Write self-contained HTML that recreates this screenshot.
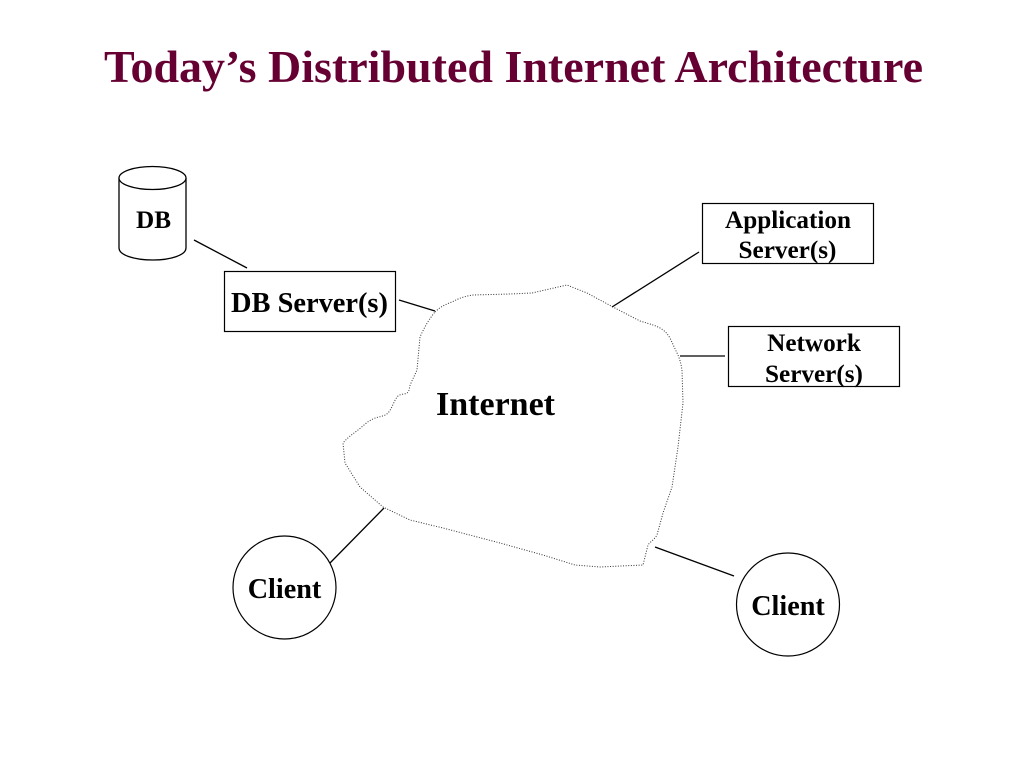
<!DOCTYPE html>
<html>
<head>
<meta charset="utf-8">
<style>
html,body{margin:0;padding:0;background:#fff;width:1024px;height:768px;overflow:hidden}
svg{display:block}
text{font-family:"Liberation Serif",serif;font-weight:bold;fill:#000}
</style>
</head>
<body>
<svg width="1024" height="768" viewBox="0 0 1024 768" xmlns="http://www.w3.org/2000/svg">
<rect width="1024" height="768" fill="#fff"/>
<text x="513.5" y="82" text-anchor="middle" font-size="46" style="fill:#660033">Today’s Distributed Internet Architecture</text>

<!-- cloud -->
<path d="M435,312 C440,307 446,304 452,302 C459,298 466,296 473,295 L510,294 L532,293 L567,285 L587,293 L613,307 L640,321 C650,324 658,326 663,330 C667,333 668,335 670,338 L677,353 C680,359 681,364 682,370 L683,403 L678,447 L672,487 L663,513 L657,535 C654,540 650,542 648,545 L643,565 L600,567 L575,565 L543,555 L500,543 L443,528 L410,520 L383,507 L360,487 L345,463 L343,443 C348,437 353,434 358,430 C363,426 368,421 373,419 C379,416 384,417 388,413 C392,409 394,400 398,396 C402,393 406,395 408,392 C410,389 409,387 411,383 L417,370 L420,337 C424,328 429,319 435,312 Z" fill="none" stroke="#333" stroke-width="1" stroke-dasharray="1 1.6"/>

<!-- DB cylinder -->
<path d="M119,178 V248 C119,255 134,260 153,260 C171,260 186,255 186,248 V178" fill="#fff" stroke="#000" stroke-width="1.3"/>
<ellipse cx="152.5" cy="178" rx="33.5" ry="11.5" fill="#fff" stroke="#000" stroke-width="1.3"/>
<text x="153.5" y="228" text-anchor="middle" font-size="25.2">DB</text>

<!-- boxes -->
<rect x="224.5" y="271.5" width="171" height="60" fill="#fff" stroke="#000" stroke-width="1.2"/>
<text x="309.5" y="312" text-anchor="middle" font-size="28.4">DB Server(s)</text>

<rect x="702.5" y="203.5" width="171" height="60" fill="#fff" stroke="#000" stroke-width="1.2"/>
<text x="788" y="228" text-anchor="middle" font-size="25.2">Application</text>
<text x="787.5" y="258" text-anchor="middle" font-size="25.2">Server(s)</text>

<rect x="728.5" y="326.5" width="171" height="60" fill="#fff" stroke="#000" stroke-width="1.2"/>
<text x="814" y="351" text-anchor="middle" font-size="25.2">Network</text>
<text x="814" y="382" text-anchor="middle" font-size="25.2">Server(s)</text>

<!-- Internet label -->
<text x="495.5" y="415" text-anchor="middle" font-size="34">Internet</text>

<!-- clients -->
<circle cx="284.5" cy="587.5" r="51.5" fill="#fff" stroke="#000" stroke-width="1.2"/>
<text x="284.5" y="598" text-anchor="middle" font-size="28.2">Client</text>
<circle cx="788" cy="604.5" r="51.5" fill="#fff" stroke="#000" stroke-width="1.2"/>
<text x="788" y="615" text-anchor="middle" font-size="28.2">Client</text>

<!-- connectors -->
<g stroke="#000" stroke-width="1.3" fill="none">
<line x1="194" y1="240" x2="247" y2="268"/>
<line x1="399" y1="300" x2="435" y2="311"/>
<line x1="612" y1="307" x2="699" y2="252"/>
<line x1="680" y1="356" x2="725" y2="356"/>
<line x1="330" y1="563" x2="384" y2="508"/>
<line x1="655" y1="547" x2="734" y2="576"/>
</g>
</svg>
</body>
</html>
